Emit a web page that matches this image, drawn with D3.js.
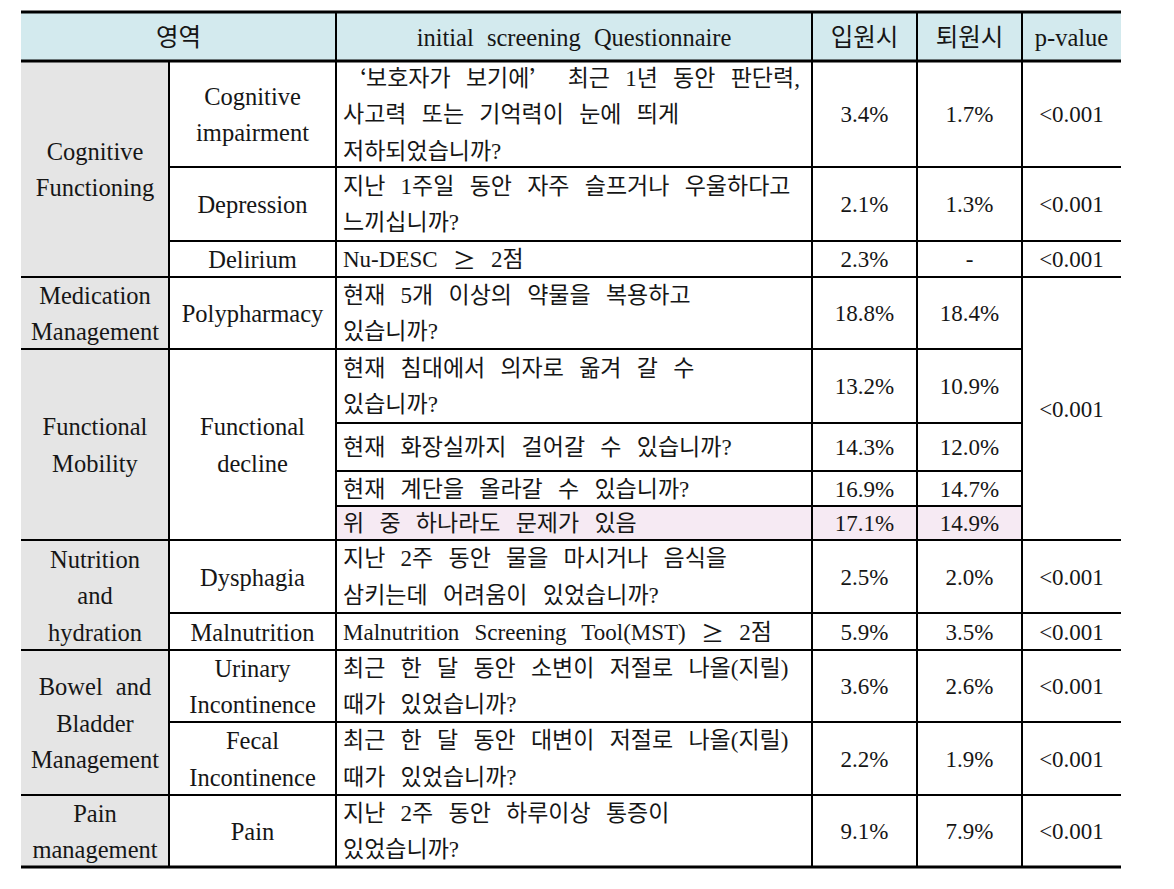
<!DOCTYPE html>
<html>
<head>
<meta charset="utf-8">
<script src="https://cdn.jsdelivr.net/npm/d3@7"></script>
<style>
  html, body { margin: 0; padding: 0; background: #ffffff; }
  svg { display: block; }
  text { fill: #161616; font-family: "Liberation Serif", "Noto Sans CJK KR", serif; }
  tspan.wide { font-family: "Noto Sans CJK JP", "Noto Sans CJK KR", sans-serif; font-feature-settings: "fwid" 1; }
</style>
</head>
<body>
<script>
// ---------- DATA ----------
const headers = ["영역", "initial screening Questionnaire", "입원시", "퇴원시", "p-value"];

const domains = [
  { label: ["Cognitive", "Functioning"], span: 3 },
  { label: ["Medication", "Management"], span: 1 },
  { label: ["Functional", "Mobility"], span: 4 },
  { label: ["Nutrition", "and", "hydration"], span: 2 },
  { label: ["Bowel and", "Bladder", "Management"], span: 2 },
  { label: ["Pain", "management"], span: 1 }
];

const subdomains = [
  { label: ["Cognitive", "impairment"], span: 1 },
  { label: ["Depression"], span: 1 },
  { label: ["Delirium"], span: 1 },
  { label: ["Polypharmacy"], span: 1 },
  { label: ["Functional", "decline"], span: 4 },
  { label: ["Dysphagia"], span: 1 },
  { label: ["Malnutrition"], span: 1 },
  { label: ["Urinary", "Incontinence"], span: 1 },
  { label: ["Fecal", "Incontinence"], span: 1 },
  { label: ["Pain"], span: 1 }
];

const questions = [
  ["‘보호자가 보기에’ 최근 1년 동안 판단력,", "사고력 또는 기억력이 눈에 띄게", "저하되었습니까?"],
  ["지난 1주일 동안 자주 슬프거나 우울하다고", "느끼십니까?"],
  ["Nu-DESC ≥ 2점"],
  ["현재 5개 이상의 약물을 복용하고", "있습니까?"],
  ["현재 침대에서 의자로 옮겨 갈 수", "있습니까?"],
  ["현재 화장실까지 걸어갈 수 있습니까?"],
  ["현재 계단을 올라갈 수 있습니까?"],
  ["위 중 하나라도 문제가 있음"],
  ["지난 2주 동안 물을 마시거나 음식을", "삼키는데 어려움이 있었습니까?"],
  ["Malnutrition Screening Tool(MST) ≥ 2점"],
  ["최근 한 달 동안 소변이 저절로 나올(지릴)", "때가 있었습니까?"],
  ["최근 한 달 동안 대변이 저절로 나올(지릴)", "때가 있었습니까?"],
  ["지난 2주 동안 하루이상 통증이", "있었습니까?"]
];

const admission = [3.4, 2.1, 2.3, 18.8, 13.2, 14.3, 16.9, 17.1, 2.5, 5.9, 3.6, 2.2, 9.1];
const discharge = [1.7, 1.3, null, 18.4, 10.9, 12.0, 14.7, 14.9, 2.0, 3.5, 2.6, 1.9, 7.9];

const pValues = [
  { label: "<0.001", span: 1 },
  { label: "<0.001", span: 1 },
  { label: "<0.001", span: 1 },
  { label: "<0.001", span: 5 },
  { label: "<0.001", span: 1 },
  { label: "<0.001", span: 1 },
  { label: "<0.001", span: 1 },
  { label: "<0.001", span: 1 },
  { label: "<0.001", span: 1 }
];

const highlightRow = 7;

// ---------- LAYOUT ----------
const W = 1174, H = 889;
const colEdges = [21, 169, 336, 812, 917, 1022, 1121];
const headerTop = 12, headerBottom = 61;
const rowHeights = [106, 74, 36, 72, 74, 48, 35, 34, 73, 37, 72, 73, 72];
const lineGap = 36.5;
const colors = {
  header: "#d3eaee",
  domain: "#e5e5e5",
  highlight: "#f6eaf3",
  line: "#000000"
};

const rowEdges = [headerBottom];
rowHeights.forEach(h => rowEdges.push(rowEdges[rowEdges.length - 1] + h));
const nRows = rowHeights.length;

const x = d3.scaleOrdinal().domain(d3.range(colEdges.length)).range(colEdges);
const y = d3.scaleOrdinal().domain(d3.range(rowEdges.length)).range(rowEdges);

const svg = d3.select("body").append("svg").attr("width", W).attr("height", H);

function spans(list) {
  let s = 0;
  return list.map(d => { const r = { ...d, r0: s, r1: s + d.span }; s += d.span; return r; });
}
const domainCells = spans(domains);
const subCells = spans(subdomains);
const pCells = spans(pValues);

// ---------- BACKGROUNDS ----------
svg.append("rect")
  .attr("x", x(0)).attr("y", headerTop)
  .attr("width", x(6) - x(0)).attr("height", headerBottom - headerTop)
  .attr("fill", colors.header);

svg.append("rect")
  .attr("x", x(0)).attr("y", y(0))
  .attr("width", x(1) - x(0)).attr("height", y(nRows) - y(0))
  .attr("fill", colors.domain);

svg.append("rect")
  .attr("x", x(2)).attr("y", y(highlightRow))
  .attr("width", x(5) - x(2)).attr("height", y(highlightRow + 1) - y(highlightRow))
  .attr("fill", colors.highlight);

// ---------- LINES ----------
const lines = svg.append("g").attr("stroke", colors.line).attr("stroke-width", 1.4).attr("shape-rendering", "crispEdges");

[2, 3, 4, 5].forEach(c => {
  lines.append("line").attr("x1", x(c)).attr("x2", x(c)).attr("y1", headerTop).attr("y2", headerBottom);
});
[1, 2, 3, 4, 5].forEach(c => {
  lines.append("line").attr("x1", x(c)).attr("x2", x(c)).attr("y1", y(0)).attr("y2", y(nRows));
});

function hLines(cells, c0, c1) {
  cells.forEach(d => {
    if (d.r0 > 0) {
      lines.append("line").attr("x1", x(c0)).attr("x2", x(c1)).attr("y1", y(d.r0)).attr("y2", y(d.r0));
    }
  });
}
hLines(domainCells, 0, 1);
hLines(subCells, 1, 2);
hLines(questions.map((q, i) => ({ r0: i })), 2, 5);
hLines(pCells, 5, 6);

const thick = svg.append("g").attr("stroke", colors.line).attr("stroke-width", 3.2);
[headerTop, headerBottom, y(nRows)].forEach(yy => {
  thick.append("line").attr("x1", x(0)).attr("x2", x(6)).attr("y1", yy).attr("y2", yy);
});

// ---------- TEXT ----------
const fsLabel = 24.5, fsValue = 23, fsKor = 23;

function multiLine(g, linesArr, cx, cy, anchor, fs, ws) {
  const n = linesArr.length;
  linesArr.forEach((t, i) => {
    const el = g.append("text")
      .attr("x", cx)
      .attr("y", cy + (i - (n - 1) / 2) * lineGap)
      .attr("text-anchor", anchor)
      .attr("dominant-baseline", "central")
      .attr("font-size", fs)
      .style("word-spacing", ws + "px");
    t.split(/([‘’≥])/).filter(s => s.length).forEach(part => {
      const sp = el.append("tspan").text(part);
      if (/^[‘’≥]$/.test(part)) sp.attr("class", "wide");
    });
  });
}

const tg = svg.append("g");

const headerCols = [[0, 2], [2, 3], [3, 4], [4, 5], [5, 6]];
headers.forEach((h, i) => {
  const [c0, c1] = headerCols[i];
  multiLine(tg, [h], (x(c0) + x(c1)) / 2, (headerTop + headerBottom) / 2, "middle", fsLabel, 7);
});

domainCells.forEach(d => {
  multiLine(tg, d.label, (x(0) + x(1)) / 2, (y(d.r0) + y(d.r1)) / 2, "middle", fsLabel, 7);
});
subCells.forEach(d => {
  multiLine(tg, d.label, (x(1) + x(2)) / 2, (y(d.r0) + y(d.r1)) / 2, "middle", fsLabel, 7);
});
questions.forEach((q, i) => {
  multiLine(tg, q, x(2) + 7, (y(i) + y(i + 1)) / 2, "start", fsKor, 9.5);
});
const fmt = v => v == null ? "-" : d3.format(".1f")(v) + "%";
admission.forEach((v, i) => {
  multiLine(tg, [fmt(v)], (x(3) + x(4)) / 2, (y(i) + y(i + 1)) / 2, "middle", fsValue, 0);
});
discharge.forEach((v, i) => {
  multiLine(tg, [fmt(v)], (x(4) + x(5)) / 2, (y(i) + y(i + 1)) / 2, "middle", fsValue, 0);
});
pCells.forEach(d => {
  multiLine(tg, [d.label], (x(5) + x(6)) / 2, (y(d.r0) + y(d.r1)) / 2, "middle", fsValue, 0);
});
</script>
</body>
</html>
